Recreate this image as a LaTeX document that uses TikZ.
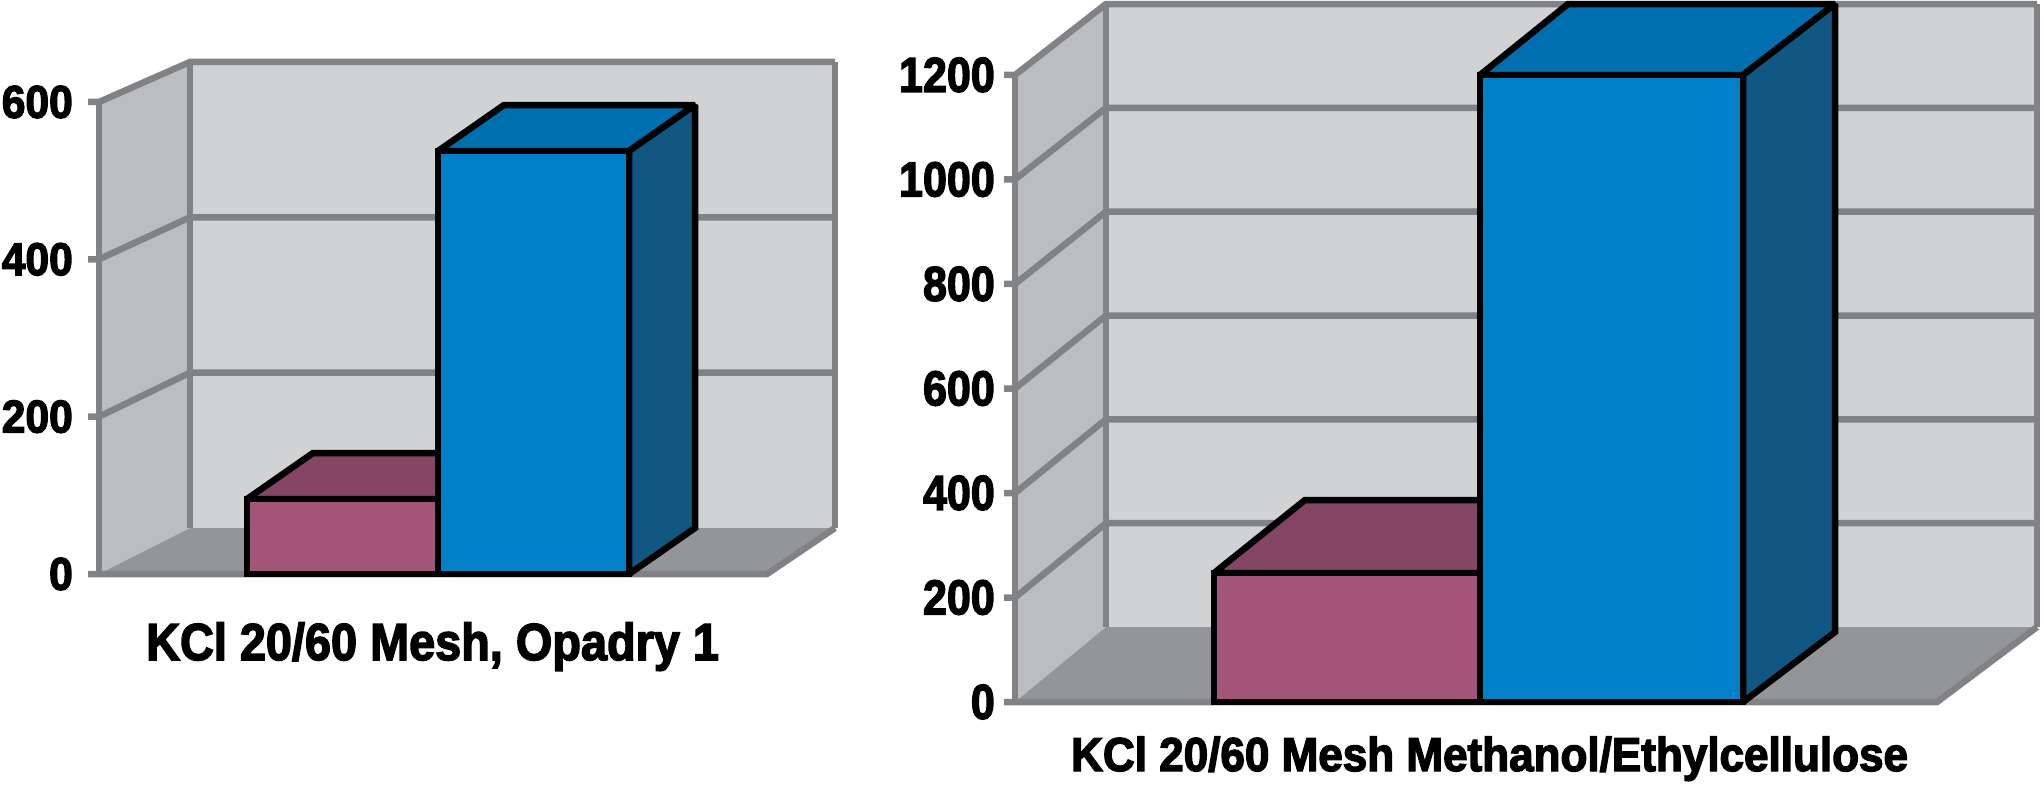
\documentclass[tikz,border=0pt]{standalone}
\usepackage{fontspec}
\setmainfont{Liberation Sans}[BoldFeatures={FakeBold=3}]
\definecolor{gridc}{HTML}{808285}
\definecolor{backc}{HTML}{D1D2D4}
\definecolor{sidec}{HTML}{BCBDC1}
\definecolor{floorc}{HTML}{939598}
\definecolor{pinkf}{HTML}{A25579}
\definecolor{pinkt}{HTML}{844664}
\definecolor{bluef}{HTML}{0080C6}
\definecolor{bluet}{HTML}{006FAF}
\definecolor{blues}{HTML}{105882}
\begin{document}
\begin{tikzpicture}[x=1pt,y=-1pt,
  gridline/.style={draw=gridc,line width=6.5pt,line join=miter,miter limit=1.9},
  barface/.style={draw=black,line width=6.5pt,line join=miter,miter limit=1.9},
  ticklabA/.style={anchor=east,inner sep=0pt,font=\bfseries\fontsize{46}{46}\selectfont},
  ticklabB/.style={anchor=east,inner sep=0pt,font=\bfseries\fontsize{49}{49}\selectfont},
  titlelab/.style={anchor=base west,inner sep=0pt}]
\useasboundingbox (0,0) rectangle (2042,790);

% ---------------- left chart ----------------
\fill[sidec] (99,102) -- (190,62) -- (190,528) -- (99,574) -- cycle;
\fill[backc] (190,62) rectangle (835,528);
\fill[floorc] (99,574) -- (190,528) -- (835,528) -- (767,574) -- cycle;
\foreach \v in {200,400,600} {
  \pgfmathsetmacro{\yf}{574-\v*0.7867}
  \pgfmathsetmacro{\yb}{528-\v*0.7767}
  \draw[gridline] (88,\yf) -- (99,\yf) -- (190,\yb) -- (835,\yb);
  \node[ticklabA] (la\v) at (73,\yf) {\scalebox{0.925}[1]{\v}};
}
\node[ticklabA] (la0) at (73,574) {\scalebox{0.925}[1]{0}};
\draw[gridline] (88,574) -- (767,574) -- (835,528);
\draw[gridline] (99,102) -- (99,574);
\draw[gridline] (190,62) -- (190,528);
\draw[gridline] (835,62) -- (835,528);

% bars
\draw[barface,fill=pinkt] (247,499) -- (313,453) -- (504,453) -- (438,499) -- cycle;
\draw[barface,fill=pinkf] (247,499) rectangle (438,574);
\draw[barface,fill=bluet] (438,151) -- (504,105) -- (695,105) -- (629,151) -- cycle;
\draw[barface,fill=blues] (629,151) -- (695,105) -- (695,528) -- (629,574) -- cycle;
\draw[barface,fill=bluef] (438,151) rectangle (629,574);

\node[titlelab] (titleA) at (146,660)
  {\bfseries\fontsize{52}{52}\selectfont\scalebox{0.901}[1]{KCl 20/60 Mesh, Opadry 1}};

% ---------------- right chart ----------------
\fill[sidec] (1015,75) -- (1106,4) -- (1106,627) -- (1015,702) -- cycle;
\fill[backc] (1106,4) rectangle (2037,627);
\fill[floorc] (1015,702) -- (1106,627) -- (2037,627) -- (1937,702) -- cycle;
\foreach \v in {200,400,600,800,1000,1200} {
  \pgfmathsetmacro{\yf}{702-\v*0.5225}
  \pgfmathsetmacro{\yb}{627-\v*0.51917}
  \draw[gridline] (1004,\yf) -- (1015,\yf) -- (1106,\yb) -- (2037,\yb);
  \node[ticklabB] (lb\v) at (995,\yf) {\scalebox{0.878}[1]{\v}};
}
\node[ticklabB] (lb0) at (995,702) {\scalebox{0.878}[1]{0}};
\draw[gridline] (1004,702) -- (1937,702) -- (2037,627);
\draw[gridline] (1015,75) -- (1015,702);
\draw[gridline] (1106,4) -- (1106,627);
\draw[gridline] (2037,4) -- (2037,627);

% bars
\draw[barface,fill=pinkt] (1214,573) -- (1305,500) -- (1570,500) -- (1480,573) -- cycle;
\draw[barface,fill=pinkf] (1214,573) rectangle (1480,702);
\draw[barface,fill=bluet] (1480,75) -- (1568,4) -- (1835,4) -- (1743,75) -- cycle;
\draw[barface,fill=blues] (1743,75) -- (1835,4) -- (1835,632) -- (1743,702) -- cycle;
\draw[barface,fill=bluef] (1480,75) rectangle (1743,702);

\node[titlelab] (titleB) at (1071,771)
  {\bfseries\fontsize{47.5}{47.5}\selectfont\scalebox{0.927}[1]{KCl 20/60 Mesh Methanol/Ethylcellulose}};
\end{tikzpicture}
\end{document}
